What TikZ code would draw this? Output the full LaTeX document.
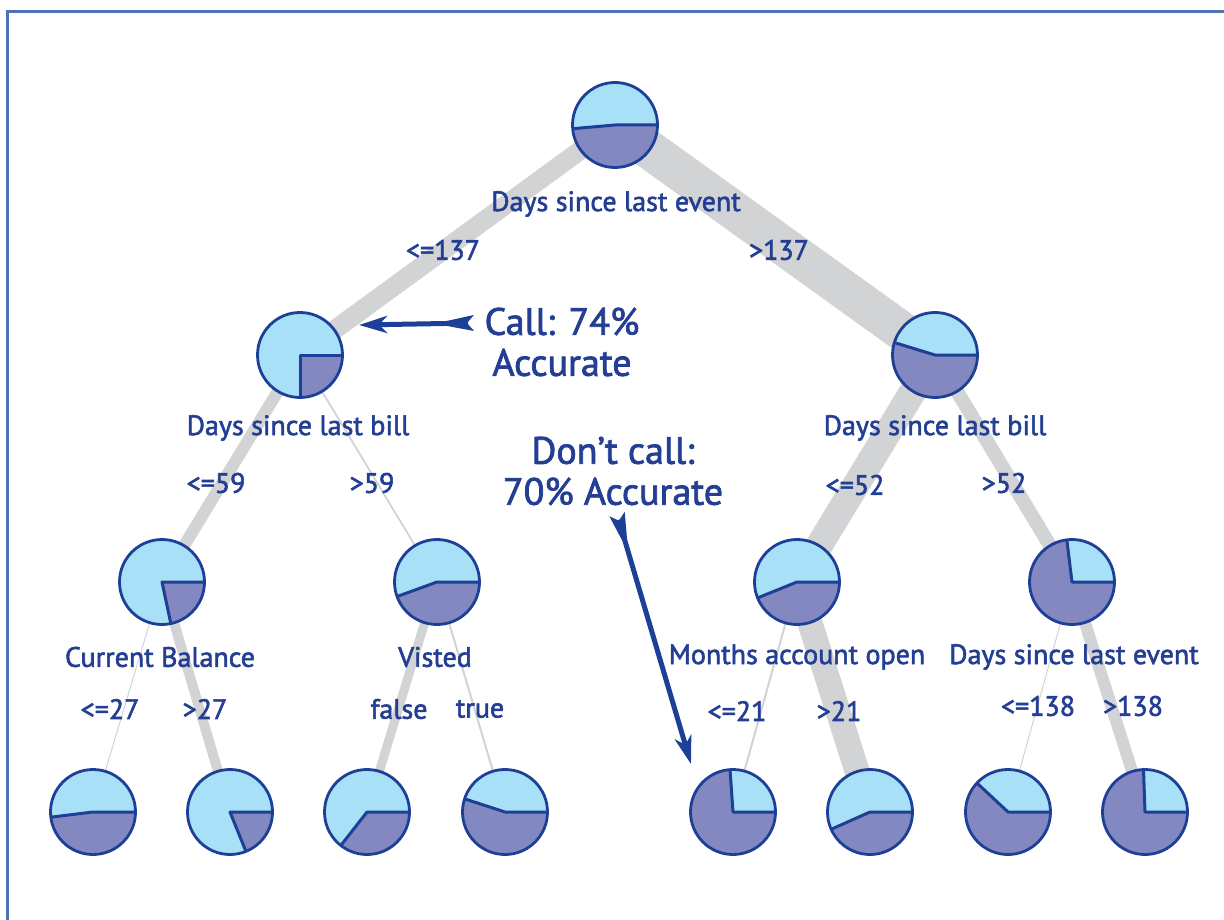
\documentclass[tikz,border=0pt]{standalone}
\usepackage{fontspec}
\setmainfont{PT Sans}
\newfontfamily\lblfont{PT Sans}[FakeBold=2]
\usetikzlibrary{arrows.meta,calc}
\definecolor{lightpie}{HTML}{A8E0F8}
\definecolor{darkpie}{HTML}{8488C0}
\definecolor{pieline}{HTML}{1E3F96}
\definecolor{branch}{HTML}{D2D3D5}
\definecolor{txt}{HTML}{233E93}
\definecolor{frame}{HTML}{5070B8}
\definecolor{arrowc}{HTML}{1C3F98}
\pgfdeclarelayer{bg}
\pgfsetlayers{bg,main}
\newcommand\myfletch[2]{%
  \fill[arrowc] ($($(#1)!27pt!(#2)$)!2.5pt!90:(#2)$) -- ($(#1)!8pt!90:(#2)$)
    -- ($(#1)!7pt!(#2)$) -- ($(#1)!8pt!-90:(#2)$)
    -- ($($(#1)!27pt!(#2)$)!2.5pt!-90:(#2)$) -- cycle;}
\begin{document}
\begin{tikzpicture}[x=1pt,y=1pt,
  pie/.style={circle, minimum size=85pt, inner sep=0pt, outer sep=0pt,
    fill=lightpie, draw=pieline, line width=2.8pt,
    path picture={
      \fill[darkpie] (path picture bounding box.center) -- ++(#1:60)
        arc[start angle=#1, end angle=360, radius=60] -- cycle;
      \draw[pieline, line width=3pt, line join=round]
        (path picture bounding box.center) ++(#1:60)
        -- (path picture bounding box.center) -- ++(0:60);
    }},
  lbl/.style={text=txt, font=\lblfont\fontsize{28}{32}\selectfont, inner sep=0pt},
  big/.style={text=txt, font=\lblfont\fontsize{38}{41}\selectfont, align=center, inner sep=0pt},
  br/.style={draw=branch, line width=#1},
  callarrow/.style={draw=arrowc, line width=5pt, -{Stealth[length=28pt, width=17pt, inset=8pt]}}
]
\useasboundingbox (0,0) rectangle (1224,-920);
\draw[frame, line width=3pt] (7,-920) -- (7,-12) -- (1224,-12);

% pies
\node[pie=185] (n0) at (615,-125) {};
\node[pie=270] (n1) at (300,-355) {};
\node[pie=163] (n2) at (935,-355) {};
\node[pie=282] (n3) at (162,-582) {};
\node[pie=200] (n4) at (437,-582) {};
\node[pie=202] (n5) at (797,-582) {};
\node[pie=97]  (n6) at (1072,-582) {};
\node[pie=187] (n7) at (93,-812) {};
\node[pie=292] (n8) at (230,-812) {};
\node[pie=232] (n9) at (367,-812) {};
\node[pie=162] (n10) at (505,-812) {};
\node[pie=94]  (n11) at (733,-812) {};
\node[pie=204] (n12) at (870,-812) {};
\node[pie=137] (n13) at (1008,-812) {};
\node[pie=92]  (n14) at (1145,-812) {};

% branches
\begin{pgfonlayer}{bg}
\draw[br=19pt] (n0.center) -- (n1.center);
\draw[br=39pt] (n0.center) -- (n2.center);
\draw[br=12pt] (n1.center) -- (n3.center);
\draw[br=1.8pt] (n1.center) -- (n4.center);
\draw[br=27pt] (n2.center) -- (n5.center);
\draw[br=14pt] (n2.center) -- (n6.center);
\draw[br=1pt] (n3.center) -- (n7.center);
\draw[br=10pt] (n3.center) -- (n8.center);
\draw[br=9pt] (n4.center) -- (n9.center);
\draw[br=2pt] (n4.center) -- (n10.center);
\draw[br=2pt] (n5.center) -- (n11.center);
\draw[br=25pt] (n5.center) -- (n12.center);
\draw[br=1pt] (n6.center) -- (n13.center);
\draw[br=12pt] (n6.center) -- (n14.center);
\end{pgfonlayer}

% labels
\node[lbl] (t0) at (616,-204) {Days since last event};
\node[lbl] (t0l) at (443,-250) {<=137};
\node[lbl] (t0r) at (779,-250) {>137};
\node[lbl] (t1) at (298,-428) {Days since last bill};
\node[lbl] (t1l) at (216,-483) {<=59};
\node[lbl] (t1r) at (372,-483) {>59};
\node[lbl] (t2) at (935,-428) {Days since last bill};
\node[lbl] (t2l) at (855,-485) {<=52};
\node[lbl] (t2r) at (1004,-483) {>52};
\node[lbl] (t3) at (160,-657) {Current Balance};
\node[lbl] (t3l) at (110,-709) {<=27};
\node[lbl] (t3r) at (205,-709) {>27};
\node[lbl] (t4) at (435,-657) {Visted};
\node[lbl] (t4l) at (399,-709) {false};
\node[lbl] (t4r) at (480,-709) {true};
\node[lbl] (t5) at (797,-657) {Months account open};
\node[lbl] (t5l) at (737,-711) {<=21};
\node[lbl] (t5r) at (839,-711) {>21};
\node[lbl] (t6) at (1074,-657) {Days since last event};
\node[lbl] (t6l) at (1038,-706) {<=138};
\node[lbl] (t6r) at (1133,-706) {>138};

% callouts
\node[big] (call) at (562,-342) {Call: 74\%\\Accurate};
\node[big] (dont) at (613,-471) {Don’t call:\\70\% Accurate};
\coordinate (a1s) at (474,-323);
\coordinate (a1e) at (359,-325);
\coordinate (a2s) at (617,-514);
\coordinate (a2e) at (691,-764);
\draw[callarrow] ($(a1s)!6pt!(a1e)$) -- (a1e);
\myfletch{a1s}{a1e}
\draw[callarrow] ($(a2s)!6pt!(a2e)$) -- (a2e);
\myfletch{a2s}{a2e}
\end{tikzpicture}
\end{document}
